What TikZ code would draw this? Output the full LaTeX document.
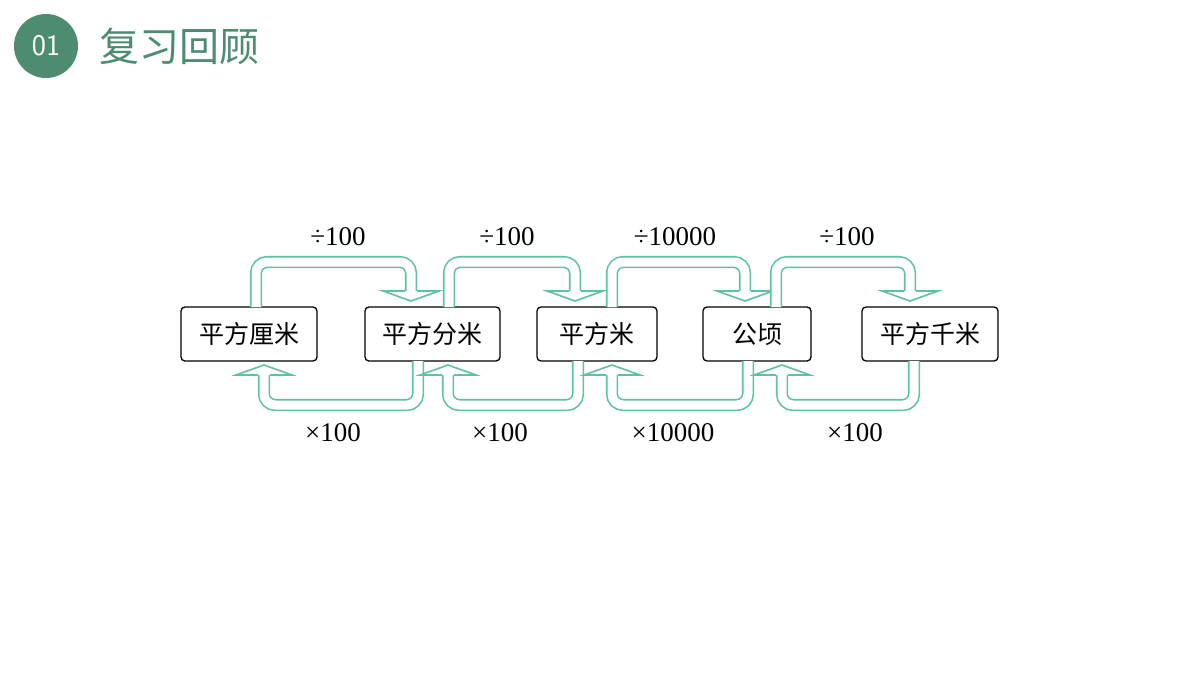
\documentclass[tikz,border=0pt]{standalone}
\usepackage{fontspec}
\setmainfont{Liberation Serif}
\newfontfamily\cjk{Noto Sans CJK SC}
\usetikzlibrary{positioning}
\definecolor{headgreen}{HTML}{4E8C72}
\definecolor{arrteal}{HTML}{5DC2A2}
\tikzset{
  unitbox/.style={draw, rounded corners=4, line width=1.3, minimum height=54, inner xsep=14,
    font=\cjk\fontsize{25}{28}\selectfont},
  shaft/.style={draw=arrteal, line width=1.6, double=white, double distance=9, rounded corners=11},
  tip/.style={draw=arrteal, line width=1.6, fill=white, line join=miter},
  oplabel/.style={font=\fontsize{27}{30}\selectfont}
}
% hollow arrow from x=#1 (top of boxes) over to x=#2
\newcommand{\toparrow}[2]{
  \draw[shaft] (#1,307) -- (#1,262) -- (#2,262) -- (#2,291);
  \draw[tip] (#2-6,291) -- (#2-28,291) -- (#2,301) -- (#2+28,291) -- (#2+6,291);
}
\newcommand{\botarrow}[2]{
  \draw[shaft] (#1,361) -- (#1,405) -- (#2,405) -- (#2,375);
  \draw[tip] (#2-6,375) -- (#2-28,375) -- (#2,365) -- (#2+28,375) -- (#2+6,375);
}
\begin{document}
\begin{tikzpicture}[x=1pt,y=-1pt]
  \useasboundingbox (0,0) rectangle (1200,675);

  % header
  \node[circle, fill=headgreen, minimum size=64, text=white, font=\sffamily\fontsize{30}{32}\selectfont] (num) at (46,46) {01};
  \node[anchor=west, text=headgreen, font=\cjk\fontsize{40}{44}\selectfont] (title) at (96,46) {复习回顾};

  % units
  \node[unitbox, minimum width=136] (sqcm) at (249,334) {平方厘米};
  \node[unitbox, minimum width=135] (sqdm) at (432.5,334) {平方分米};
  \node[unitbox, minimum width=120] (sqm) at (597,334) {平方米};
  \node[unitbox, minimum width=108] (ha) at (757,334) {公顷};
  \node[unitbox, minimum width=136] (sqkm) at (930,334) {平方千米};

  % divide arrows
  \toparrow{256}{411}
  \toparrow{449}{575}
  \toparrow{612}{745}
  \toparrow{776}{910}

  % multiply arrows
  \botarrow{418}{264}
  \botarrow{578}{448}
  \botarrow{748}{612}
  \botarrow{914}{782}

  \node[oplabel] (d1) at (338,237) {÷100};
  \node[oplabel] (d2) at (507,237) {÷100};
  \node[oplabel] (d3) at (675,237) {÷10000};
  \node[oplabel] (d4) at (847,237) {÷100};
  \node[oplabel] (m1) at (333,433) {×100};
  \node[oplabel] (m2) at (500,433) {×100};
  \node[oplabel] (m3) at (673,433) {×10000};
  \node[oplabel] (m4) at (855,433) {×100};
\end{tikzpicture}
\end{document}
